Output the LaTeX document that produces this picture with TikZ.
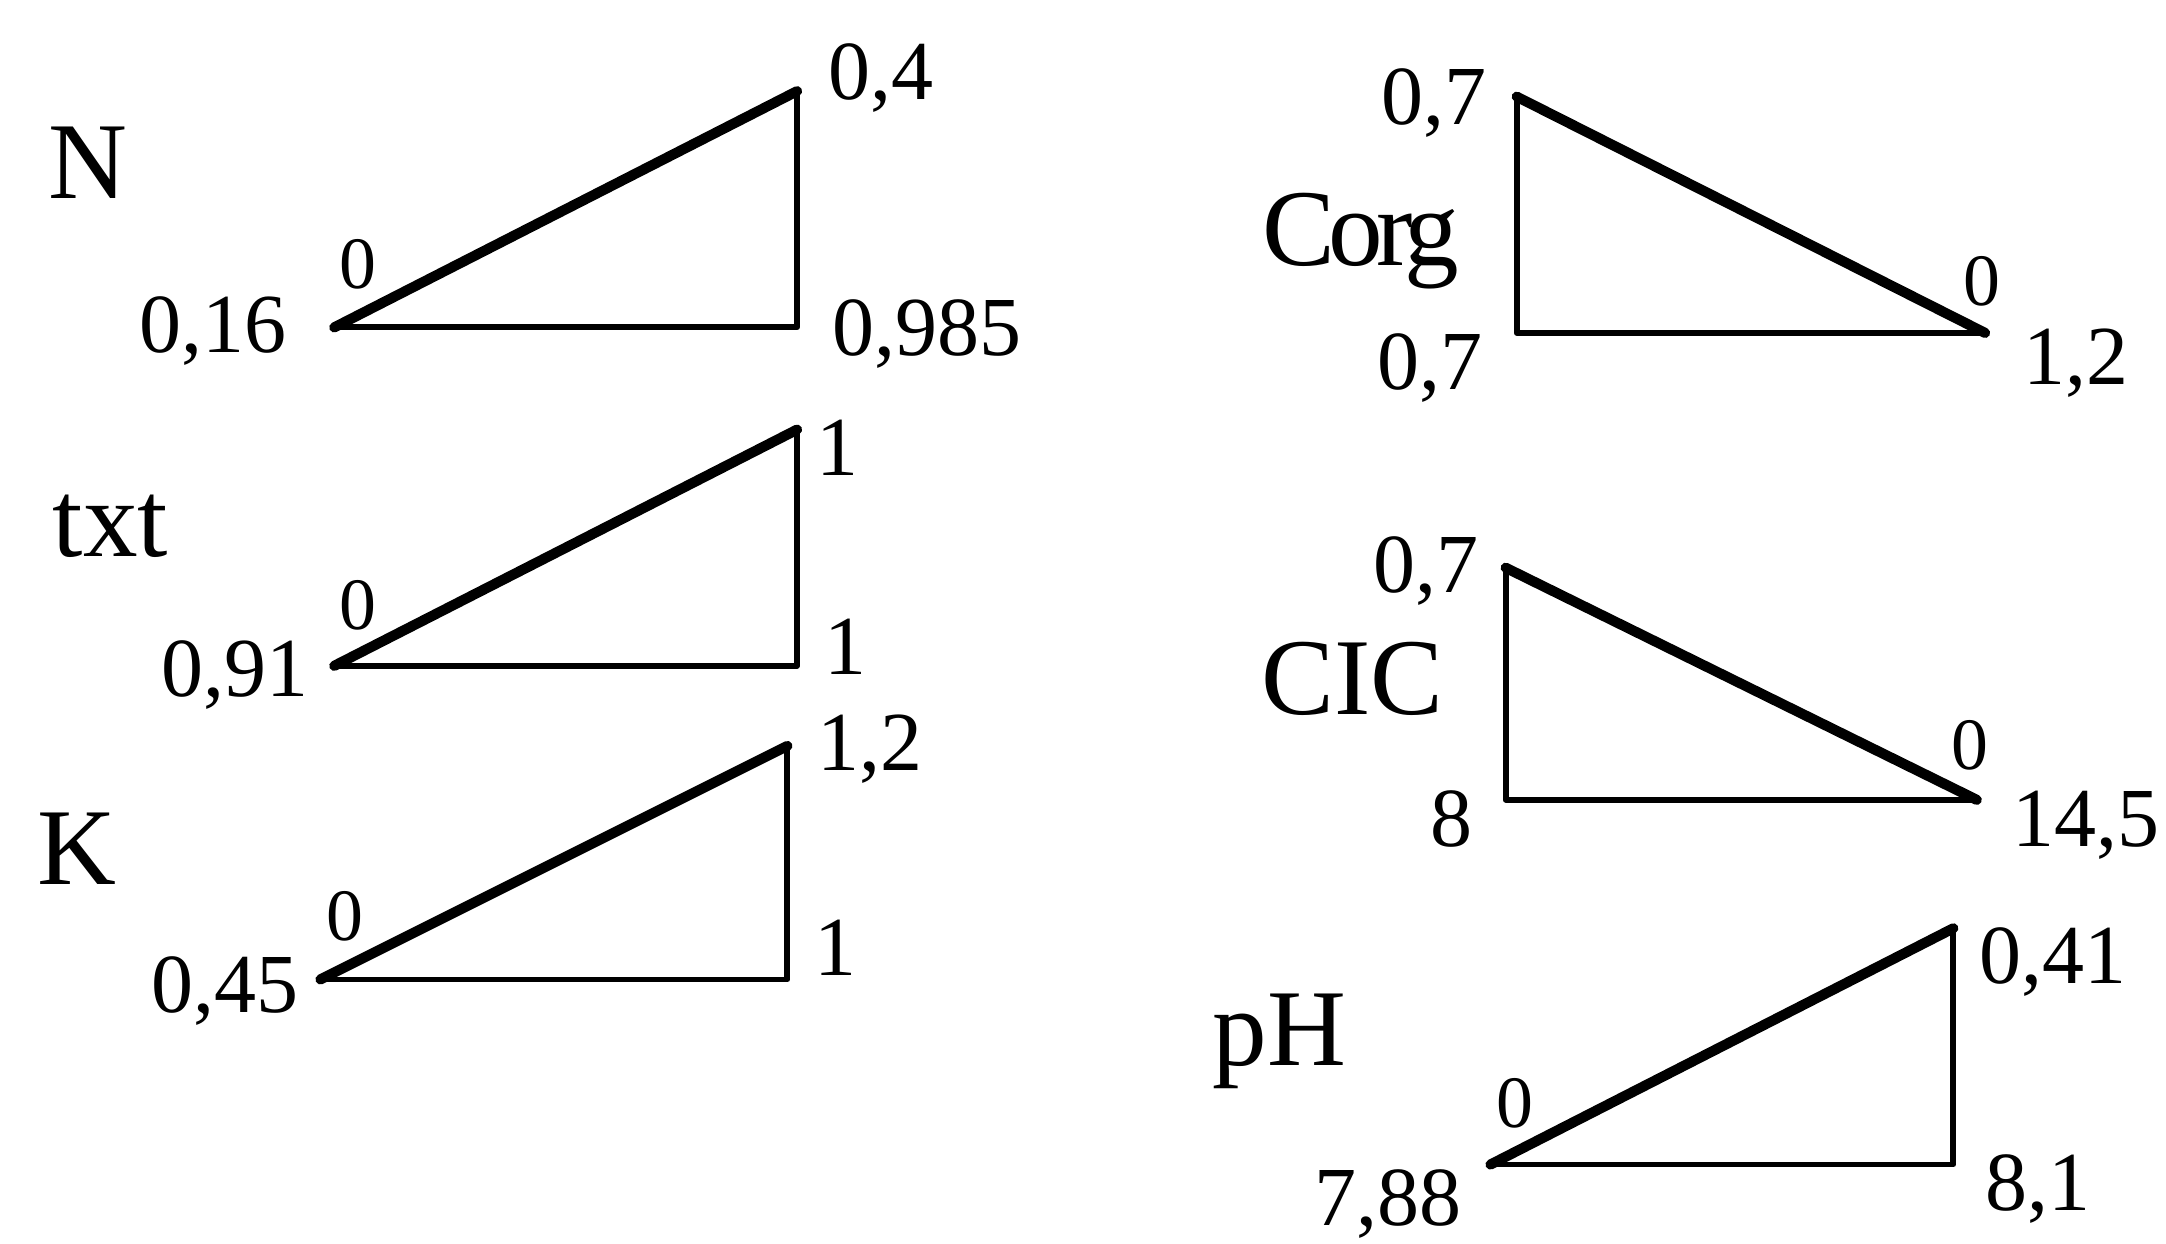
\documentclass[tikz,border=0pt]{standalone}
\usepackage{fontspec}
\setmainfont{Liberation Serif}

\begin{document}
\begin{tikzpicture}[x=1cm,y=1cm]
\tikzset{
  leg/.style={line width=1.2pt,draw=black,line cap=round,line join=round},
  hyp/.style={line width=2.1pt,draw=black,line cap=round},
  nm/.style={font=\fontsize{17.3}{20}\selectfont,inner sep=0pt,anchor=base},
  zr/.style={font=\fontsize{15.2}{18}\selectfont,inner sep=0pt,anchor=base},
  ttl/.style={font=\fontsize{22.5}{27}\selectfont,inner sep=0pt,anchor=base}
}
\useasboundingbox (0,0) rectangle (15.68,-9.00);
% N
\coordinate (n1) at (2.42,-2.37);
\coordinate (n2) at (5.77,-2.37);
\coordinate (n3) at (5.77,-0.66);
\draw[leg] (n1) -- (n2) -- (n3);
\draw[hyp] (n1) -- (n3);
\node[ttl] (tN) at (0.64,-1.435) {N};
\node[zr] (zN) at (2.59,-2.09) {0};
\node[nm] (aN) at (1.54,-2.55) {0,16};
\node[nm] (cN) at (6.38,-0.72) {0,4};
\node[nm] (bN) at (6.71,-2.57) {0,985};
% txt
\coordinate (t1) at (2.42,-4.82);
\coordinate (t2) at (5.77,-4.82);
\coordinate (t3) at (5.77,-3.11);
\draw[leg] (t1) -- (t2) -- (t3);
\draw[hyp] (t1) -- (t3);
\node[ttl] (tT) at (0.80,-4.03) {txt};
\node[zr] (zT) at (2.59,-4.56) {0};
\node[nm] (aT) at (1.70,-5.04) {0,91};
\node[nm] (cT) at (6.06,-3.44) {1};
\node[nm] (bT) at (6.12,-4.88) {1};
% K
\coordinate (k1) at (2.32,-7.09);
\coordinate (k2) at (5.70,-7.09);
\coordinate (k3) at (5.70,-5.40);
\draw[leg] (k1) -- (k2) -- (k3);
\draw[hyp] (k1) -- (k3);
\node[ttl] (tK) at (0.56,-6.40) {K};
\node[zr] (zK) at (2.50,-6.81) {0};
\node[nm] (aK) at (1.63,-7.33) {0,45};
\node[nm] (cK) at (6.30,-5.58) {1,2};
\node[nm] (bK) at (6.05,-7.06) {1};
% Corg
\coordinate (o1) at (10.98,-0.70);
\coordinate (o2) at (10.98,-2.41);
\coordinate (o3) at (14.37,-2.41);
\draw[leg] (o1) -- (o2) -- (o3);
\draw[hyp] (o1) -- (o3);
\node[ttl] (tO) at (9.85,-1.92) {\addfontfeature{LetterSpace=-6}Corg};
\node[nm] (aO) at (10.38,-0.90) {0,7};
\node[nm] (bO) at (10.35,-2.82) {0,7};
\node[zr] (zO) at (14.35,-2.21) {0};
\node[nm] (cO) at (15.03,-2.78) {1,2};
% CIC
\coordinate (c1) at (10.90,-4.11);
\coordinate (c2) at (10.90,-5.79);
\coordinate (c3) at (14.31,-5.79);
\draw[leg] (c1) -- (c2) -- (c3);
\draw[hyp] (c1) -- (c3);
\node[ttl] (tC) at (9.79,-5.17) {CIC};
\node[nm] (aC) at (10.32,-4.29) {0,7};
\node[nm] (bC) at (10.51,-6.13) {8};
\node[zr] (zC) at (14.26,-5.57) {0};
\node[nm] (cC) at (15.10,-6.13) {14,5};
% pH
\coordinate (p1) at (10.79,-8.43);
\coordinate (p2) at (14.14,-8.43);
\coordinate (p3) at (14.14,-6.72);
\draw[leg] (p1) -- (p2) -- (p3);
\draw[hyp] (p1) -- (p3);
\node[ttl] (tP) at (9.26,-7.71) {pH};
\node[zr] (zP) at (10.97,-8.16) {0};
\node[nm] (aP) at (10.05,-8.87) {7,88};
\node[nm] (cP) at (14.86,-7.12) {0,41};
\node[nm] (bP) at (14.75,-8.76) {8,1};
\end{tikzpicture}
\end{document}
